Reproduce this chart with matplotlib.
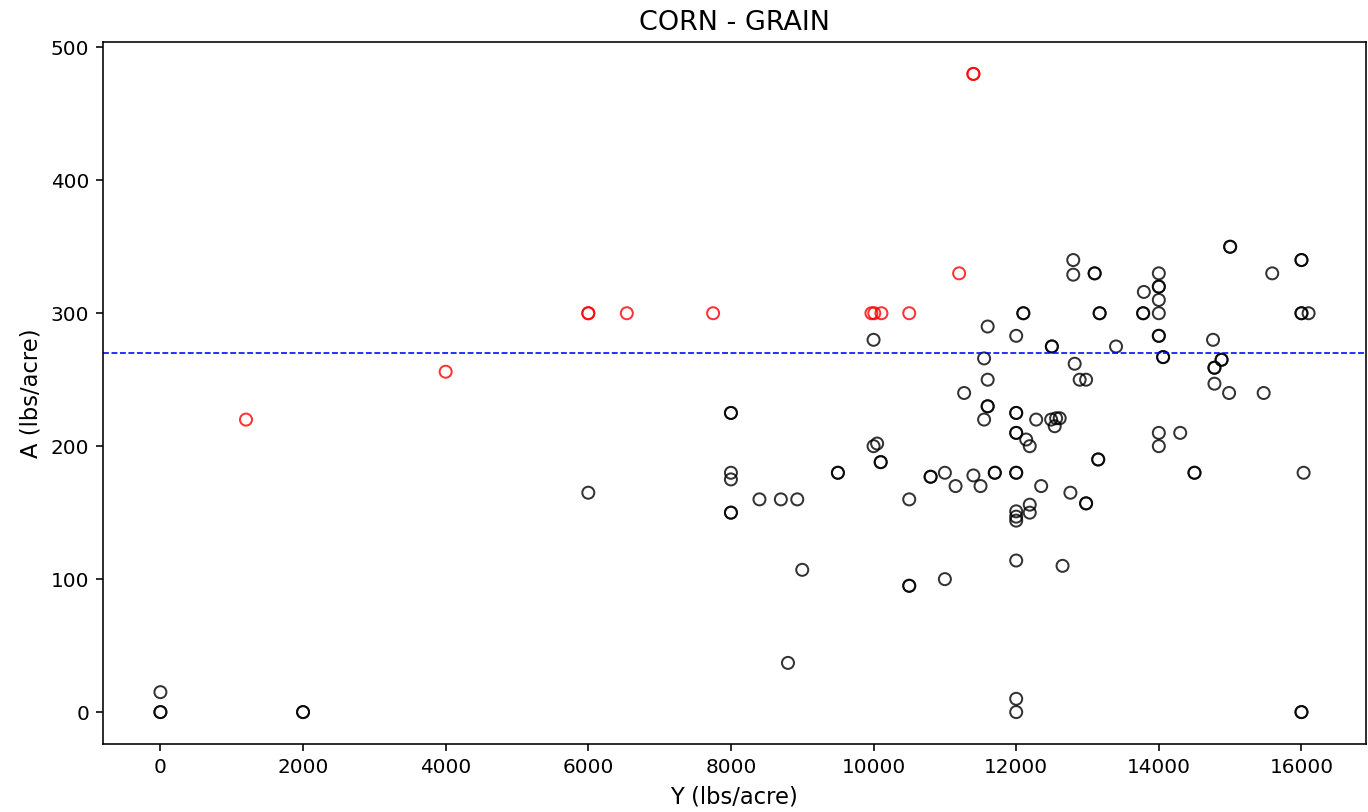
import matplotlib
matplotlib.use("Agg")
import matplotlib.pyplot as plt

# black points (repeated entries = overlapping duplicates)
yield_x = [0, 0, 0, 2000, 2000,
           6000,
           8000, 8000, 8000, 8000, 8000, 8000,
           8400, 8700, 8930, 9000, 8800,
           9500, 9500,
           10000, 10050, 10100, 10100, 10000,
           10500, 10500, 10500, 11000,
           10800, 10800, 11000, 11150, 11400, 11500, 11700, 11700,
           11270, 11550, 11600, 11600, 11600,
           11600, 11550, 12000, 12100, 12100,
           12000, 12000, 12000, 12000, 12280, 12490, 12560, 12610, 12540,
           12140, 12190,
           12000, 12000, 12350, 12760, 12980, 12980,
           12190, 12190, 12000, 12000, 12000,
           12000, 12650, 12000, 12000,
           12500, 12500, 12820, 12890, 12980,
           12800, 12800, 13100, 13100, 13170, 13170,
           13400,
           13150, 13150,
           13790, 13780, 13780, 14000, 14000, 14000, 14000, 14000, 14000, 14000, 14060, 14060,
           14000, 14000, 14300, 14500, 14500,
           14760, 14880, 14880, 14780, 14780, 14780, 14985,
           15000, 15000, 15590, 15470,
           16000, 16000, 16000, 16000, 16100, 16030, 16000, 16000]
app_y = [0, 0, 15, 0, 0,
         165,
         225, 225, 180, 175, 150, 150,
         160, 160, 160, 107, 37,
         180, 180,
         200, 202, 188, 188, 280,
         160, 95, 95, 100,
         177, 177, 180, 170, 178, 170, 180, 180,
         240, 220, 230, 230, 250,
         290, 266, 283, 300, 300,
         225, 225, 210, 210, 220, 220, 221, 221, 215,
         205, 200,
         180, 180, 170, 165, 157, 157,
         156, 150, 151, 147, 144,
         114, 110, 10, 0,
         275, 275, 262, 250, 250,
         340, 329, 330, 330, 300, 300,
         275,
         190, 190,
         316, 300, 300, 330, 320, 320, 310, 300, 283, 283, 267, 267,
         210, 200, 210, 180, 180,
         280, 265, 265, 259, 259, 247, 240,
         350, 350, 330, 240,
         340, 340, 300, 300, 300, 180, 0, 0]

# red points
red_x = [1200, 4000, 6000, 6000, 6540, 7750, 9970, 10010, 10110, 10500, 11200, 11400, 11400]
red_y = [220, 256, 300, 300, 300, 300, 300, 300, 300, 300, 330, 480, 480]

ref_line = 270

fig = plt.figure(figsize=(9.5, 812 / 144), dpi=144)
ax = fig.add_axes([103 / 1368, 68 / 812, 1263 / 1368, 702 / 812])
ax.scatter(yield_x, app_y, s=36, facecolors="none", edgecolors="black", linewidths=1, alpha=0.8)
ax.scatter(red_x, red_y, s=36, facecolors="none", edgecolors="red", linewidths=1, alpha=0.8)
ax.axhline(ref_line, color="blue", linestyle="--", linewidth=0.8)
ax.set_title("CORN - GRAIN", fontsize=13.5)
ax.set_xlabel("Y (lbs/acre)", fontsize=11.3)
ax.set_ylabel("A (lbs/acre)", fontsize=11.3)
fig.savefig("out.png", dpi=144)
